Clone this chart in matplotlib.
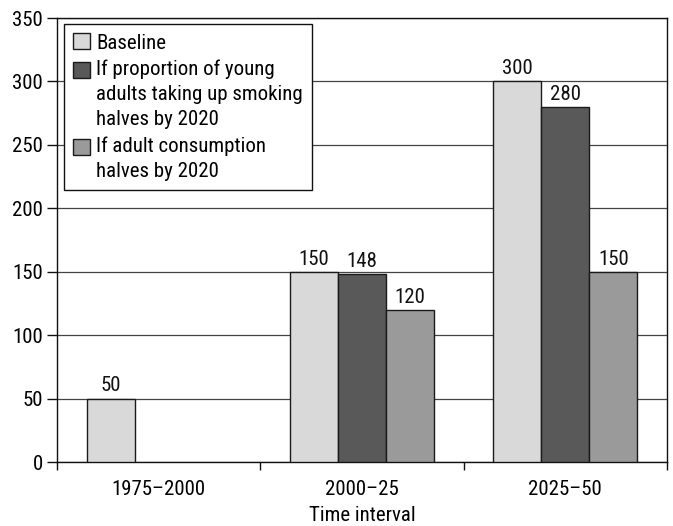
import matplotlib
matplotlib.use("Agg")
import matplotlib.pyplot as plt
from matplotlib.patches import Patch, Rectangle
from matplotlib.legend_handler import HandlerPatch
import numpy as np

plt.rcParams['font.family'] = ['Roboto Condensed', 'Roboto', 'DejaVu Sans']

categories = ["1975\u20132000", "2000\u201325", "2025\u201350"]
series_names = [
    "Baseline",
    "If proportion of young\nadults taking up smoking\nhalves by 2020",
    "If adult consumption\nhalves by 2020",
]
baseline = [50, 150, 300]
young_halves = [None, 148, 280]
adult_halves = [None, 120, 150]
series = [baseline, young_halves, adult_halves]
colors = ["#d9d9d9", "#595959", "#9a9a9a"]
yticks = [0, 50, 100, 150, 200, 250, 300, 350]

FS = 15
LINESPACING = 1.39


class TopAlignedSwatch(HandlerPatch):
    """Square swatch aligned with the first line of a multi-line label."""

    def __init__(self, nlines, line_pts, **kw):
        super().__init__(**kw)
        self.shift = (nlines - 1) / 2 * line_pts

    def create_artists(self, legend, orig_handle, xdescent, ydescent,
                       width, height, fontsize, trans):
        r = Rectangle((-xdescent, -ydescent + self.shift), width, height,
                      facecolor=orig_handle.get_facecolor(),
                      edgecolor=orig_handle.get_edgecolor(),
                      linewidth=orig_handle.get_linewidth(), transform=trans)
        return [r]


fig = plt.figure(figsize=(6.73, 5.26), dpi=100)
ax = fig.add_axes([57 / 673, 1 - 462 / 526, 610 / 673, 444 / 526])

width = 0.236
x = np.arange(len(categories))
for i, (vals, col) in enumerate(zip(series, colors)):
    for xi, v in zip(x, vals):
        if v is None:
            continue
        pos = xi + (i - 1) * width
        ax.bar(pos, v, width=width, color=col, edgecolor="#1a1a1a",
               linewidth=1.0, zorder=3)
        ax.text(pos, v + 2.5, str(v), ha="center", va="bottom",
                fontsize=FS, color="#111111", zorder=4)

ax.set_xlim(-0.5, len(categories) - 0.5)
ax.set_ylim(0, 350)
ax.set_yticks(yticks)
ax.set_yticklabels([str(t) for t in yticks], fontsize=FS)
ax.yaxis.grid(True, color="#444444", linewidth=0.9, zorder=0)
ax.set_axisbelow(True)

ax.set_xticks(x)
ax.set_xticklabels(categories, fontsize=FS)
ax.tick_params(axis="x", length=0, pad=13)
ax.set_xticks(np.arange(-0.5, len(categories)), minor=True)
ax.tick_params(axis="x", which="minor", length=6, width=1, color="#111111")
ax.tick_params(axis="y", length=7, width=1, color="#111111", pad=3)
for s in ax.spines.values():
    s.set_color("#111111")
    s.set_linewidth(1)

ax.set_xlabel("Time interval", fontsize=FS, labelpad=5)

handles = [Patch(facecolor=c, edgecolor="#1a1a1a", linewidth=1) for c in colors]
line_pts = 24.5 * 72 / 100
hmap = {h: TopAlignedSwatch(name.count("\n") + 1, line_pts)
        for h, name in zip(handles, series_names)}
leg = ax.legend(handles, series_names, loc="upper left",
                bbox_to_anchor=(7 / 610, 1 - 6 / 444), fontsize=FS,
                frameon=True, fancybox=False, framealpha=1,
                edgecolor="#111111", handlelength=0.8, handleheight=0.8,
                handletextpad=0.3, borderpad=0.45, labelspacing=0.35,
                borderaxespad=0, handler_map=hmap)
for t in leg.get_texts():
    t.set_linespacing(LINESPACING)
leg.get_frame().set_linewidth(1)

fig.savefig("out.png", dpi=100)
